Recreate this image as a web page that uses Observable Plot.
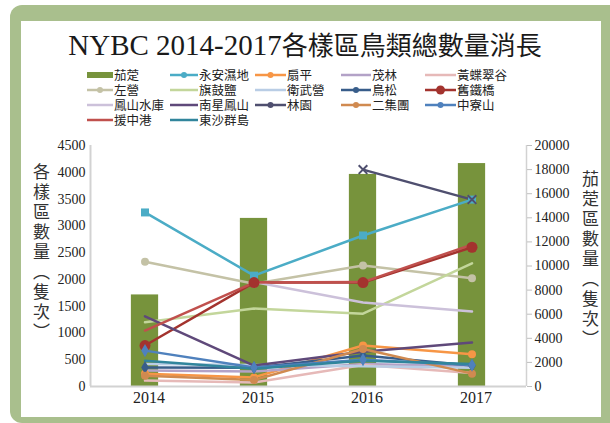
<!DOCTYPE html>
<html><head><meta charset="utf-8">
<script src="https://cdn.jsdelivr.net/npm/d3@7"></script>
<script src="https://cdn.jsdelivr.net/npm/@observablehq/plot@0.6"></script>
<style>
body{margin:0;width:610px;height:423px;position:relative;background:#fff;overflow:hidden;font-family:"Noto Sans CJK TC",sans-serif;}
#frame{position:absolute;left:10px;top:5px;width:600px;height:418px;background:#a9bf8d;border-radius:12px 0 0 12px;}
#panel{position:absolute;left:21px;top:21px;width:580px;height:396px;background:#fff;}
#title{position:absolute;left:21px;top:24px;width:568px;text-align:center;color:#1a1a1a;white-space:nowrap;line-height:40px;}
#title .lat{font-family:"Liberation Serif",serif;font-size:29px;}
#title .cjk{font-family:"Noto Sans CJK TC",sans-serif;font-size:26px;}
.leg{position:absolute;height:14px;font-size:12.5px;line-height:14px;color:#222;white-space:nowrap;}
.leg svg{position:absolute;left:0;top:0;}
.leg span{position:absolute;top:0px;line-height:14px;}
.vt{position:absolute;writing-mode:vertical-rl;font-size:17px;letter-spacing:3px;color:#333;font-family:"Noto Sans CJK TC",sans-serif;}
#chart{position:absolute;left:21px;top:130px;}
</style></head>
<body>
<div id="frame"></div>
<div id="panel"></div>
<div id="title"><span class="lat">NYBC 2014-2017</span><span class="cjk">各樣區鳥類總數量消長</span></div>
<div id="legend"></div>
<div class="vt" style="left:29px;top:163px;">各樣區數量（隻次）</div>
<div class="vt" style="left:578px;top:170px;">茄萣區數量（隻次）</div>
<div id="chart"></div>
<script>
const years = [2014, 2015, 2016, 2017];
const barName = "茄萣";
const barColor = "#77933c";
const barValues = [7600, 13950, 17600, 18500];
const leftTicks = [0, 500, 1000, 1500, 2000, 2500, 3000, 3500, 4000, 4500];
const rightTicks = [0, 2000, 4000, 6000, 8000, 10000, 12000, 14000, 16000, 18000, 20000];
const seriesNames = ["永安濕地","扇平","茂林","黃蝶翠谷","左營","旗鼓鹽","衛武營","鳥松","舊鐵橋","鳳山水庫","南星鳳山","林園","二集團","中寮山","援中港","東沙群島"];
const seriesColors = ["#4bacc6","#f79646","#b3a2c7","#e6b9b8","#c4c2a6","#c3d69b","#b9cde5","#385d8a","#a3332e","#ccc1da","#5f497a","#4f4f6f","#d08a50","#4f81bd","#c0504d","#31859c"];
const seriesMarkers = ["square","circle",null,null,"circle",null,null,"diamond","circle",null,null,"times","circle","diamond",null,null];
const seriesValues = [
  [3250, 2070, 2820, 3490],
  [240, 170, 765, 600],
  [300, 280, 420, 380],
  [110, 75, 400, 250],
  [2330, 1920, 2260, 2020],
  [1200, 1455, 1360, 2300],
  [420, 400, 380, 350],
  [355, 350, 580, 390],
  [765, 1940, 1940, 2600],
  [null, 1950, 1570, 1400],
  [1310, 390, 650, 820],
  [null, null, 4050, 3490],
  [200, 120, 700, 240],
  [670, 355, 500, 400],
  [1045, 1940, 1950, 2650],
  [480, 330, 480, 420]
];
const legendOrder = ["茄萣","永安濕地","扇平","茂林","黃蝶翠谷","左營","旗鼓鹽","衛武營","鳥松","舊鐵橋","鳳山水庫","南星鳳山","林園","二集團","中寮山","援中港","東沙群島"];

const k = 4500 / 20000;
const barData = years.map((y, i) => ({year: y, value: barValues[i]}));
const lineData = [];
seriesNames.forEach((n, i) => seriesValues[i].forEach((v, j) => lineData.push({name: n, year: years[j], value: v == null ? NaN : v})));

const dotMarks = [];
seriesNames.forEach((n, i) => {
  const m = seriesMarkers[i];
  if (!m) return;
  const d = lineData.filter(p => p.name === n && !isNaN(p.value));
  const r = n === "舊鐵橋" ? 5.5 : (m === "square" ? 4.5 : 4);
  if (m === "times") dotMarks.push(Plot.dot(d, {x: "year", y: "value", symbol: "times", r: 4, stroke: seriesColors[i], strokeWidth: 2}));
  else dotMarks.push(Plot.dot(d, {x: "year", y: "value", symbol: m, r, fill: seriesColors[i]}));
});

const chart = Plot.plot({
  width: 566, height: 280,
  marginLeft: 69, marginRight: 61, marginTop: 15, marginBottom: 24,
  style: {background: "transparent", fontFamily: '"Liberation Serif", serif', color: "#222"},
  x: {domain: [2013.5, 2017.5], axis: null},
  y: {domain: [0, 4500], axis: null},
  color: {domain: seriesNames, range: seriesColors},
  marks: [
    Plot.rectY(barData, {x1: d => d.year - 0.125, x2: d => d.year + 0.125, y: d => d.value * k, fill: barColor}),
    Plot.ruleY([0], {stroke: "#d2d2d2", strokeWidth: 2}),
    Plot.ruleX([2013.5], {stroke: "#d2d2d2", strokeWidth: 2}),
    Plot.ruleX([2017.5], {stroke: "#d2d2d2", strokeWidth: 1.5}),
    Plot.line(lineData, {x: "year", y: "value", z: "name", stroke: "name", strokeWidth: 2.5, curve: "linear"}),
    ...dotMarks,
    Plot.axisY(leftTicks, {anchor: "left", label: null, text: d => String(d), tickSize: 0, tickPadding: 5, fontSize: 14}),
    Plot.axisY(rightTicks, {anchor: "right", label: null, y: d => d * k, text: d => String(d), tickSize: 5, tickPadding: 3, fontSize: 14, stroke: "#c0c0c0", fill: "#222"}),
    Plot.axisX(years, {anchor: "bottom", label: null, text: d => String(d), tickSize: 0, tickPadding: 5, fontSize: 16, dx: 4})
  ]
});
document.getElementById("chart").appendChild(chart);

// legend
const colSw = [87, 170, 255, 341, 425];
const colTx = [114, 199, 287, 372, 457];
const rowY = [68, 83, 98, 113];
const leg = document.getElementById("legend");
legendOrder.forEach((name, idx) => {
  const r = Math.floor(idx / 5), c = idx % 5;
  const div = document.createElement("div");
  div.className = "leg";
  div.style.left = colSw[c] + "px";
  div.style.top = rowY[r] + "px";
  const w = colTx[c] - colSw[c] - 1;
  let sw;
  if (name === barName) {
    sw = `<svg width="${w}" height="14"><rect x="0" y="4" width="${w}" height="6" fill="${barColor}"/></svg>`;
  } else {
    const i = seriesNames.indexOf(name);
    const col = seriesColors[i];
    const m = seriesMarkers[i];
    let mk = "";
    if (m) {
      const rr = name === "舊鐵橋" ? 4.5 : 3;
      mk = `<circle cx="${w/2}" cy="7" r="${rr}" fill="${col}"/>`;
    }
    sw = `<svg width="${w}" height="14"><line x1="0" x2="${w}" y1="7" y2="7" stroke="${col}" stroke-width="2.5"/>${mk}</svg>`;
  }
  div.innerHTML = sw + `<span style="left:${colTx[c]-colSw[c]}px">${name}</span>`;
  leg.appendChild(div);
});
</script>
</body></html>
